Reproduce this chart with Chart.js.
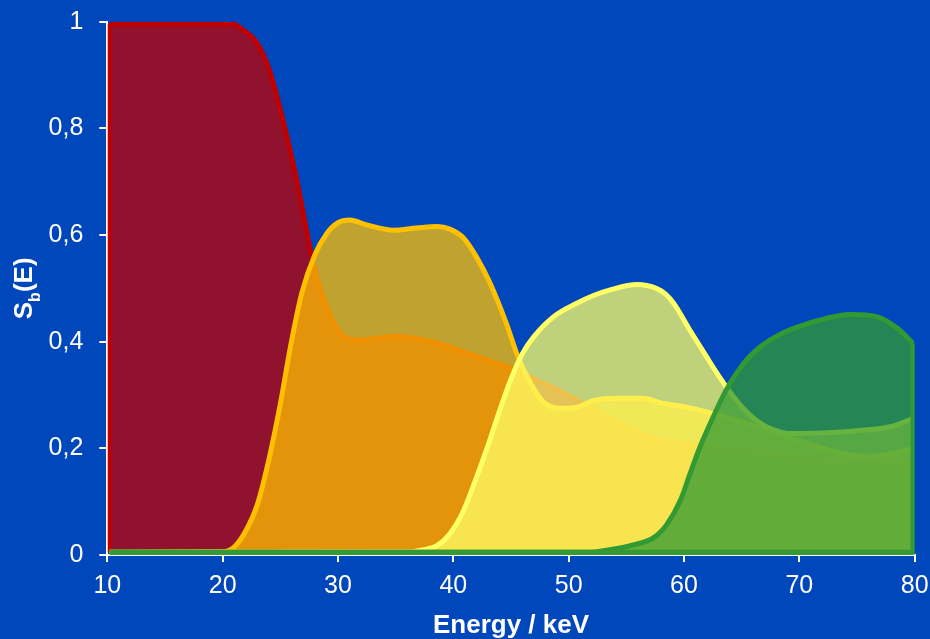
<!DOCTYPE html>
<html><head><meta charset="utf-8">
<script src="https://cdn.jsdelivr.net/npm/chart.js@4.4.1/dist/chart.umd.min.js"></script>
<style>html,body{margin:0;padding:0;background:#0047BB;overflow:hidden}#wrap{width:930px;height:639px}</style>
</head><body><div id="wrap"><canvas id="c" width="930" height="639"></canvas></div>
<script>
// ---- data ----
const redE = [10.2, 15, 20.9, 21.8, 23.0, 24.1, 25.0, 26.2, 27.0, 27.6, 28.3, 29.2, 30.3, 31.5, 33, 35, 37, 39, 41, 43, 45, 47, 49, 51, 53, 55, 57, 60, 64, 68, 72, 76, 79.85];
const redS = [0.995, 0.995, 0.995, 0.984, 0.959, 0.906, 0.835, 0.725, 0.64, 0.572, 0.511, 0.455, 0.413, 0.403, 0.405, 0.41, 0.405, 0.395, 0.38, 0.365, 0.35, 0.33, 0.31, 0.287, 0.265, 0.24, 0.222, 0.208, 0.2, 0.19, 0.18, 0.175, 0.175];

const orangeE = [10.2, 20, 21, 22, 23, 24, 25, 25.85, 26.86, 28, 29, 30, 31, 32.5, 34.8, 36.8, 38.6, 39.7, 40.9, 42, 43.2, 44.6, 45.6, 46.7, 47.8, 49.3, 50.7, 52.2, 54.2, 56.5, 58, 60, 62, 64, 66, 68, 70, 72, 74, 76, 78, 79.85];
const orangeS = [0.005, 0.006, 0.015, 0.045, 0.094, 0.178, 0.283, 0.387, 0.491, 0.563, 0.602, 0.623, 0.628, 0.619, 0.609, 0.613, 0.616, 0.611, 0.594, 0.559, 0.509, 0.434, 0.372, 0.322, 0.287, 0.275, 0.277, 0.29, 0.294, 0.294, 0.285, 0.278, 0.268, 0.256, 0.243, 0.228, 0.214, 0.2, 0.189, 0.185, 0.19, 0.2];

const yellowE = [10.2, 36, 37.2, 38.6, 39.7, 40.9, 42, 43, 44, 45, 46, 47, 48.7, 50.7, 52.2, 53.6, 55.9, 57.6, 58.4, 59.1, 60.5, 62, 63.1, 64, 65, 66, 67, 68, 69, 72, 75, 78, 79.85];
const yellowS = [0.005, 0.006, 0.009, 0.018, 0.04, 0.084, 0.145, 0.205, 0.27, 0.33, 0.378, 0.41, 0.447, 0.472, 0.487, 0.497, 0.507, 0.5, 0.489, 0.472, 0.422, 0.37, 0.333, 0.305, 0.278, 0.257, 0.242, 0.233, 0.228, 0.229, 0.233, 0.241, 0.256];

const greenE = [10.2, 52, 53, 55.6, 57.4, 58.5, 59.7, 60.5, 61.3, 62.3, 63.7, 65.2, 66.6, 68, 69.5, 72.4, 74.4, 76.7, 78.5, 79.85];
const greenS = [0.005, 0.005, 0.008, 0.019, 0.033, 0.057, 0.103, 0.151, 0.198, 0.248, 0.311, 0.36, 0.39, 0.41, 0.425, 0.444, 0.451, 0.447, 0.425, 0.397];

const xTicks = [10, 20, 30, 40, 50, 60, 70, 80];
const yTicks = [0, 0.2, 0.4, 0.6, 0.8, 1];
const yTickLabels = ['0', '0,2', '0,4', '0,6', '0,8', '1'];
const xTitle = 'Energy / keV';
const yTitleParts = ['S', 'b', '(E)'];

// ---- styles ----
const BG = '#0047BB';
const FONT = '"Liberation Sans", Arial, sans-serif';
const series = [
  {E: redE, S: redS, line: '#C00000', fill: 'rgba(192,0,0,0.75)', order: 4},
  {E: orangeE, S: orangeS, line: '#FFC000', fill: 'rgba(255,192,0,0.75)', order: 3},
  {E: yellowE, S: yellowS, line: '#FFFF66', fill: 'rgba(255,255,102,0.75)', order: 2},
  {E: greenE, S: greenS, line: '#339933', fill: 'rgba(51,153,51,0.75)', order: 1}
];
const pts = (E, S) => E.map((e, i) => ({x: e, y: S[i]}));

const datasets = series.map(s => ({
  data: pts(s.E, s.S),
  borderColor: s.line,
  backgroundColor: s.fill,
  borderWidth: 5,
  fill: 'origin',
  pointRadius: 0,
  cubicInterpolationMode: 'monotone',
  borderJoinStyle: 'round',
  order: s.order
}));
// area outlines at the ends (left edge of first series, right edge and base of last series)
const gl = greenE.length - 1;
datasets.push({
  data: [{x: redE[0], y: greenS[0]}, {x: redE[0], y: redS[0]}],
  borderColor: '#C00000', borderWidth: 4, fill: false, pointRadius: 0, tension: 0, order: 5
});
datasets.push({
  data: [{x: greenE[gl], y: greenS[gl]}, {x: greenE[gl], y: greenS[0]}, {x: greenE[0], y: greenS[0]}],
  borderColor: '#339933', borderWidth: 5, fill: false, pointRadius: 0, tension: 0, order: 0
});

const bgPlugin = {
  id: 'bg',
  beforeDraw(chart) {
    const c = chart.ctx;
    c.save(); c.fillStyle = BG; c.fillRect(0, 0, chart.width, chart.height); c.restore();
  }
};
const yTitlePlugin = {
  id: 'ytitle',
  afterDraw(chart) {
    const c = chart.ctx, a = chart.chartArea;
    const big = 'bold 26px ' + FONT, small = 'bold 16px ' + FONT;
    c.save();
    c.fillStyle = '#FFFFFF';
    c.font = big; const w0 = c.measureText(yTitleParts[0]).width, w2 = c.measureText(yTitleParts[2]).width;
    c.font = small; const w1 = c.measureText(yTitleParts[1]).width;
    const total = w0 + w1 + w2;
    c.translate(31.5, (a.top + a.bottom) / 2);
    c.rotate(-Math.PI / 2);
    c.textBaseline = 'alphabetic'; c.textAlign = 'left';
    let x = -total / 2;
    c.font = big; c.fillText(yTitleParts[0], x, 0); x += w0;
    c.font = small; c.fillText(yTitleParts[1], x, 8); x += w1;
    c.font = big; c.fillText(yTitleParts[2], x, 0);
    c.restore();
  }
};

new Chart(document.getElementById('c'), {
  type: 'line',
  data: {datasets},
  options: {
    responsive: false, animation: false, devicePixelRatio: 1,
    layout: {padding: {top: 21.7, right: 15.3, left: 0, bottom: 0}},
    plugins: {legend: {display: false}, tooltip: {enabled: false}},
    scales: {
      x: {
        type: 'linear', min: 10, max: 80,
        afterBuildTicks: s => { s.ticks = xTicks.map(v => ({value: v})); },
        afterFit: s => { s.height = 84; s.paddingLeft = 0; s.paddingRight = 0; },
        ticks: {color: '#FFFFFF', font: {family: FONT, size: 25}, padding: 9, maxRotation: 0, autoSkip: false},
        grid: {drawOnChartArea: false, drawTicks: true, tickLength: 7, color: '#FFFFFF', lineWidth: 2},
        border: {display: true, color: '#FFFFFF', width: 2},
        title: {display: true, text: xTitle, color: '#FFFFFF', font: {family: FONT, size: 26, weight: 'bold'}, padding: {top: 0, bottom: -2}}
      },
      y: {
        type: 'linear', min: 0, max: 1,
        afterBuildTicks: s => { s.ticks = yTicks.map(v => ({value: v})); },
        afterFit: s => { s.width = 107.3; s.paddingTop = 0; s.paddingBottom = 0; },
        ticks: {color: '#FFFFFF', font: {family: FONT, size: 25}, padding: 16, autoSkip: false,
          callback: (v, i) => yTickLabels[i]},
        grid: {drawOnChartArea: false, drawTicks: true, tickLength: 8, color: '#FFFFFF', lineWidth: 2},
        border: {display: true, color: '#FFFFFF', width: 2}
      }
    }
  },
  plugins: [bgPlugin, yTitlePlugin]
});
</script>
</body></html>
